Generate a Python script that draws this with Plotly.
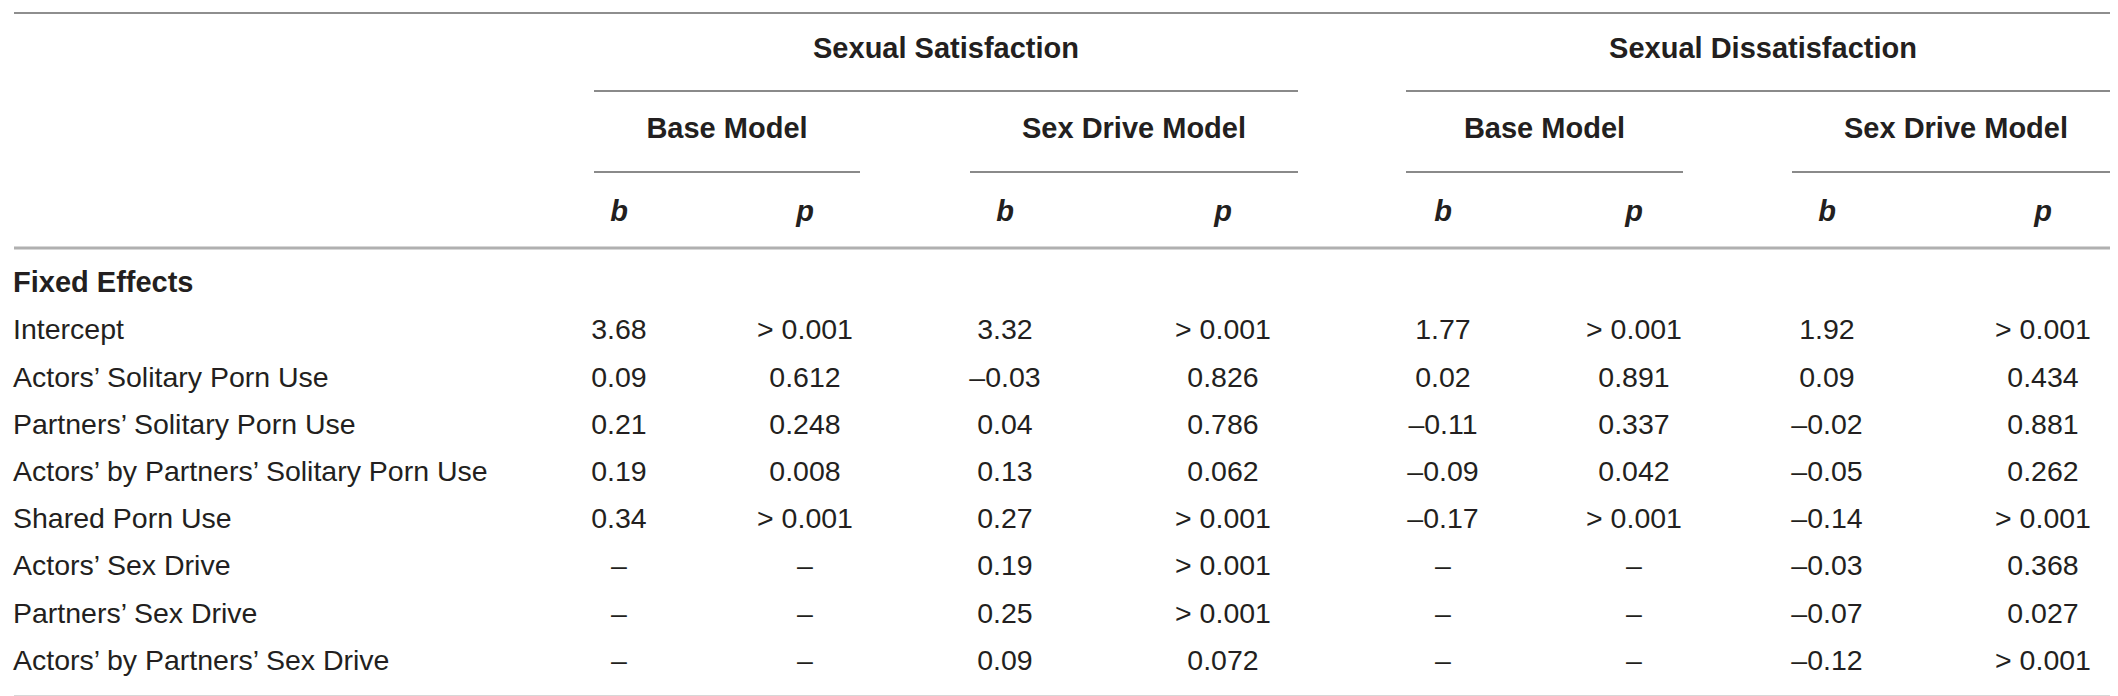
import plotly.graph_objects as go

W, H = 2118, 696

# ---- data ----
row_labels = [
    "Intercept",
    "Actors’ Solitary Porn Use",
    "Partners’ Solitary Porn Use",
    "Actors’ by Partners’ Solitary Porn Use",
    "Shared Porn Use",
    "Actors’ Sex Drive",
    "Partners’ Sex Drive",
    "Actors’ by Partners’ Sex Drive",
]
sat_base_b = ["3.68", "0.09", "0.21", "0.19", "0.34", "–", "–", "–"]
sat_base_p = ["> 0.001", "0.612", "0.248", "0.008", "> 0.001", "–", "–", "–"]
sat_sd_b = ["3.32", "–0.03", "0.04", "0.13", "0.27", "0.19", "0.25", "0.09"]
sat_sd_p = ["> 0.001", "0.826", "0.786", "0.062", "> 0.001", "> 0.001", "> 0.001", "0.072"]
dis_base_b = ["1.77", "0.02", "–0.11", "–0.09", "–0.17", "–", "–", "–"]
dis_base_p = ["> 0.001", "0.891", "0.337", "0.042", "> 0.001", "–", "–", "–"]
dis_sd_b = ["1.92", "0.09", "–0.02", "–0.05", "–0.14", "–0.03", "–0.07", "–0.12"]
dis_sd_p = ["> 0.001", "0.434", "0.881", "0.262", "> 0.001", "0.368", "0.027", "> 0.001"]

outcomes = ["Sexual Satisfaction", "Sexual Dissatisfaction"]
models = ["Base Model", "Sex Drive Model", "Base Model", "Sex Drive Model"]
stat_labels = ["b", "p", "b", "p", "b", "p", "b", "p"]
section_label = "Fixed Effects"

columns = [sat_base_b, sat_base_p, sat_sd_b, sat_sd_p,
           dis_base_b, dis_base_p, dis_sd_b, dis_sd_p]

# ---- layout constants (pixels) ----
col_x = [611, 797, 997, 1215, 1435, 1626, 1819, 2035]
model_spans = [(586, 852), (962, 1290), (1398, 1675), (1784, 2112)]
outcome_spans = [(586, 1290), (1398, 2112)]
y_outcome, y_line1, y_model, y_line2, y_stat, y_line3 = 43, 83, 123, 164, 206, 240
y_section = 277
row_step = 47.2
y_top, y_bottom = 5, 689
left_x = 5

FONT = "Liberation Sans, Arial, Helvetica, sans-serif"
TXT = "#231f20"
body_size = 28.5
head_size = 29

fig = go.Figure()

# body cells
row_y = [y_section + row_step * (i + 1) for i in range(len(row_labels))]
fig.add_trace(go.Scatter(
    x=[left_x] * len(row_labels), y=row_y, text=row_labels, mode="text",
    textposition="middle right",
    textfont=dict(family=FONT, size=body_size, color=TXT), hoverinfo="skip"))
for cx, vals in zip(col_x, columns):
    fig.add_trace(go.Scatter(
        x=[cx] * len(vals), y=row_y, text=vals, mode="text",
        textposition="middle center",
        textfont=dict(family=FONT, size=body_size, color=TXT), hoverinfo="skip"))

# section label
fig.add_trace(go.Scatter(
    x=[left_x], y=[y_section], text=[f"<b>{section_label}</b>"], mode="text",
    textposition="middle right",
    textfont=dict(family=FONT, size=head_size, color=TXT), hoverinfo="skip"))

# stat header (b / p)
fig.add_trace(go.Scatter(
    x=col_x, y=[y_stat] * len(col_x), text=[f"<b><i>{s}</i></b>" for s in stat_labels],
    mode="text", textposition="middle center",
    textfont=dict(family=FONT, size=head_size, color=TXT), hoverinfo="skip"))

# model headers
fig.add_trace(go.Scatter(
    x=[(a + b) / 2 for a, b in model_spans], y=[y_model] * len(models),
    text=[f"<b>{m}</b>" for m in models], mode="text", textposition="middle center",
    textfont=dict(family=FONT, size=head_size, color=TXT), hoverinfo="skip"))

# outcome headers
fig.add_trace(go.Scatter(
    x=[(a + b) / 2 for a, b in outcome_spans], y=[y_outcome] * len(outcomes),
    text=[f"<b>{o}</b>" for o in outcomes], mode="text", textposition="middle center",
    textfont=dict(family=FONT, size=head_size, color=TXT), hoverinfo="skip"))

shapes = []
def hline(x0, x1, y, color, width):
    shapes.append(dict(type="line", xref="x", yref="y", x0=x0, x1=x1, y0=y, y1=y,
                       line=dict(color=color, width=width)))

hline(6, 2112, y_top, "#8e8e8e", 2)
for a, b in outcome_spans:
    hline(a, b, y_line1, "#8a8a8a", 2)
for a, b in model_spans:
    hline(a, b, y_line2, "#8a8a8a", 2)
hline(6, 2112, y_line3, "#b0b0b0", 3)
hline(6, 2112, y_bottom, "#b0b0b0", 3)

fig.update_layout(
    width=W, height=H, margin=dict(l=0, r=0, t=0, b=0),
    paper_bgcolor="white", plot_bgcolor="white", showlegend=False,
    shapes=shapes,
    xaxis=dict(range=[0, W], visible=False, fixedrange=True),
    yaxis=dict(range=[H, 0], visible=False, fixedrange=True),
)

fig.write_html("out.html")
